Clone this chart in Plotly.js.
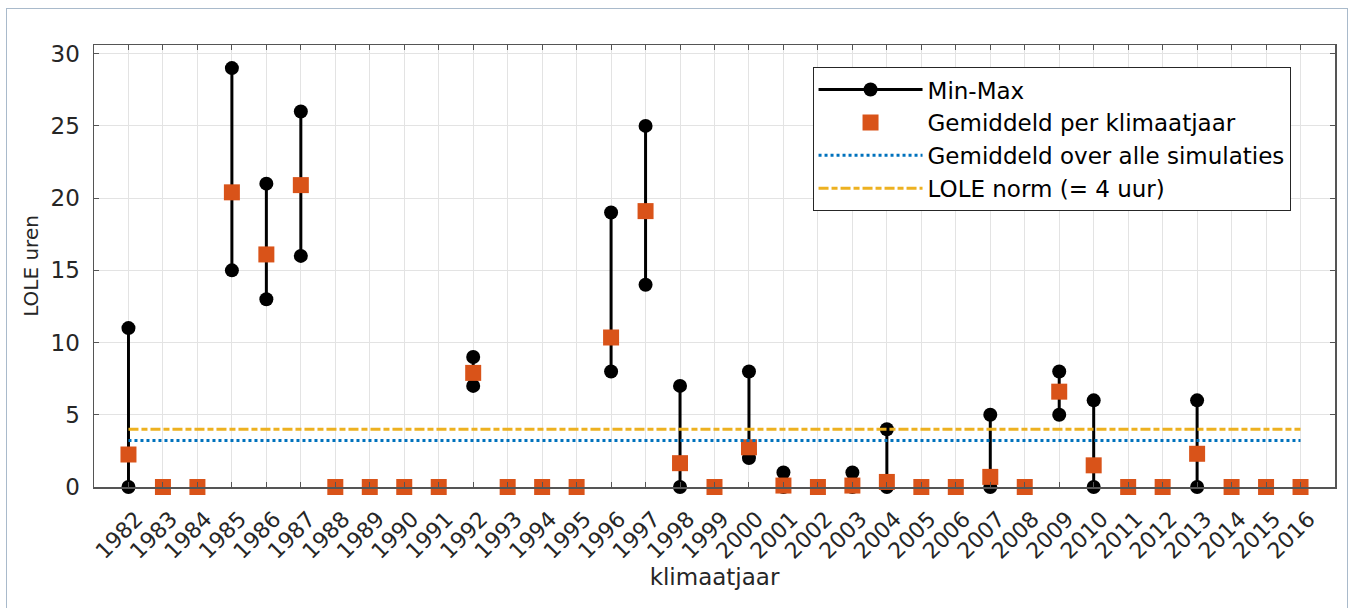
<!DOCTYPE html>
<html>
<head>
<meta charset="utf-8">
<script src="https://cdn.plot.ly/plotly-3.0.1.min.js"></script>
<style>
  html, body { margin: 0; padding: 0; background: #ffffff; }
  #wrap { position: relative; width: 1352px; height: 608px; }
  #chart { width: 1352px; height: 608px; }
  #frame { position: absolute; left: 6px; top: 8px; width: 1340px; height: 620px;
           border: 1.5px solid #a9bacb; pointer-events: none; }
</style>
</head>
<body>
<div id="wrap"><div id="chart"></div><div id="frame"></div></div>
<script>
// Data
const years = [1982,1983,1984,1985,1986,1987,1988,1989,1990,1991,1992,1993,1994,1995,1996,1997,1998,1999,2000,2001,2002,2003,2004,2005,2006,2007,2008,2009,2010,2011,2012,2013,2014,2015,2016];
const minVals = [0,0,0,15,13,16,0,0,0,0,7,0,0,0,8,14,0,0,2,0,0,0,0,0,0,0,0,5,0,0,0,0,0,0,0];
const maxVals = [11,0,0,29,21,26,0,0,0,0,9,0,0,0,19,25,7,0,8,1,0,1,4,0,0,5,0,8,6,0,0,6,0,0,0];
const meanVals = [2.25,0,0,20.4,16.1,20.9,0,0,0,0,7.9,0,0,0,10.35,19.1,1.65,0,2.75,0.1,0,0.1,0.35,0,0,0.7,0,6.6,1.5,0,0,2.3,0,0,0];
const overallMean = 3.22;
const loleNorm = 4;
const seriesNames = ['Min-Max','Gemiddeld per klimaatjaar','Gemiddeld over alle simulaties','LOLE norm (= 4 uur)'];

// Build min-max segments (null-separated)
const mmX = [], mmY = [];
years.forEach((yr, i) => {
  mmX.push(yr, yr, null);
  mmY.push(minVals[i], maxVals[i], null);
});
const xEnds = [years[0], years[years.length - 1]];

const traces = [
  {
    x: mmX, y: mmY, type: 'scatter', mode: 'lines+markers', name: seriesNames[0], legendgroup: 'a',
    line: {color: '#000000', width: 3},
    marker: {color: '#000000', size: 14, symbol: 'circle'},
    connectgaps: false, cliponaxis: false
  },
  {
    x: years, y: meanVals, type: 'scatter', mode: 'markers', name: seriesNames[1], legendgroup: 'b',
    marker: {color: '#D95319', size: 16, symbol: 'square'},
    cliponaxis: false
  },
  {
    x: xEnds, y: [overallMean, overallMean], type: 'scatter', mode: 'lines', name: seriesNames[2], legendgroup: 'c',
    line: {color: '#0072BD', width: 3, dash: '3px,3px'}
  },
  {
    x: xEnds, y: [loleNorm, loleNorm], type: 'scatter', mode: 'lines', name: seriesNames[3], legendgroup: 'd',
    line: {color: '#EDB120', width: 3, dash: '10px,3px,6px,3px'}
  }
];

const FONT = 'DejaVu Sans, Liberation Sans, Arial, sans-serif';

const layout = {
  width: 1352, height: 608,
  margin: {l: 94, r: 17, t: 45, b: 121},
  paper_bgcolor: '#ffffff', plot_bgcolor: '#ffffff',
  font: {family: FONT, color: '#262626'},
  showlegend: true,
  legend: {
    x: 0.579, y: 0.95, xanchor: 'left', yanchor: 'top',
    bgcolor: '#ffffff', bordercolor: '#262626', borderwidth: 1,
    font: {size: 23, color: '#000000', family: FONT}, itemwidth: 104,
    traceorder: 'grouped', tracegroupgap: 0
  },
  xaxis: {
    range: [1981, 2017],
    tickmode: 'array', tickvals: years, ticktext: years.map(String),
    tickangle: -45, tickfont: {size: 22, color: '#262626', family: FONT},
    ticklabelstandoff: 9, ticklabelshift: 8,
    showgrid: true, gridcolor: '#e3e3e3', gridwidth: 1,
    zeroline: false,
    showline: true, linecolor: '#555555', linewidth: 1.5, mirror: 'ticks',
    ticks: 'inside', ticklen: 5, tickcolor: '#555555',
    title: {text: 'klimaatjaar', font: {size: 23, color: '#262626', family: FONT}, standoff: 0}
  },
  yaxis: {
    range: [0, 30.6],
    tickmode: 'array', tickvals: [0,5,10,15,20,25,30],
    tickfont: {size: 23, color: '#262626', family: FONT},
    ticklabelstandoff: 8,
    showgrid: true, gridcolor: '#e3e3e3', gridwidth: 1,
    zeroline: false,
    showline: true, linecolor: '#555555', linewidth: 1.5, mirror: 'ticks',
    ticks: 'inside', ticklen: 5, tickcolor: '#555555',
    title: {text: 'LOLE uren', font: {size: 20, color: '#262626', family: FONT}, standoff: 6}
  }
};

Plotly.newPlot('chart', traces, layout, {displayModeBar: false, staticPlot: true});
</script>
</body>
</html>
